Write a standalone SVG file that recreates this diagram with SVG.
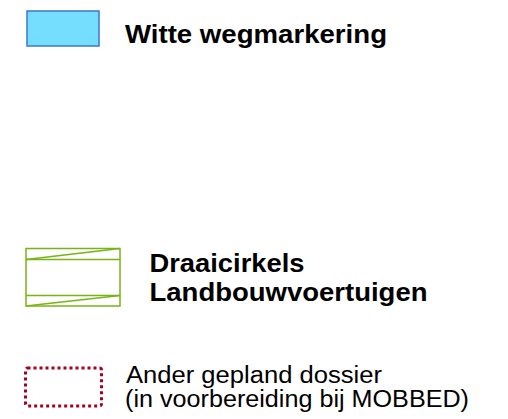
<svg xmlns="http://www.w3.org/2000/svg" width="508" height="419" viewBox="0 0 508 419">
<style>
.b{font-family:"Liberation Sans",Arial,sans-serif;font-weight:bold;font-size:26.5px;fill:#000}
.r{font-family:"Liberation Sans",Arial,sans-serif;font-size:23.5px;fill:#000}
.g{fill:none;stroke:#7AB317;stroke-width:1.5}
</style>
<rect width="508" height="419" fill="#fff"/>
<g id="witte">
<rect x="27" y="11" width="72" height="35" fill="#75DEFF" stroke="#3A78CF" stroke-width="1.5"/>
<text class="b" x="125" y="42.5" textLength="262" lengthAdjust="spacingAndGlyphs">Witte wegmarkering</text>
</g>
<g id="draaicirkels">
<rect class="g" x="26" y="248.5" width="94" height="57.5"/>
<line class="g" x1="26" y1="259.5" x2="120" y2="259.5"/>
<line class="g" x1="26" y1="295.5" x2="120" y2="295.5"/>
<line class="g" x1="26" y1="259.5" x2="120" y2="248.5"/>
<line class="g" x1="26" y1="306" x2="120" y2="295.5"/>
<text class="b" x="149.5" y="272" textLength="155" lengthAdjust="spacingAndGlyphs">Draaicirkels</text>
<text class="b" x="149.5" y="300.5" textLength="278" lengthAdjust="spacingAndGlyphs">Landbouwvoertuigen</text>
</g>
<g id="ander">
<rect x="25.5" y="368" width="76" height="38" rx="2" fill="none" stroke="#A50021" stroke-width="3" stroke-dasharray="3 3"/>
<text class="r" x="126" y="382.5" textLength="256" lengthAdjust="spacingAndGlyphs">Ander gepland dossier</text>
<text class="r" x="125" y="406.5" textLength="344" lengthAdjust="spacingAndGlyphs">(in voorbereiding bij MOBBED)</text>
</g>
</svg>
